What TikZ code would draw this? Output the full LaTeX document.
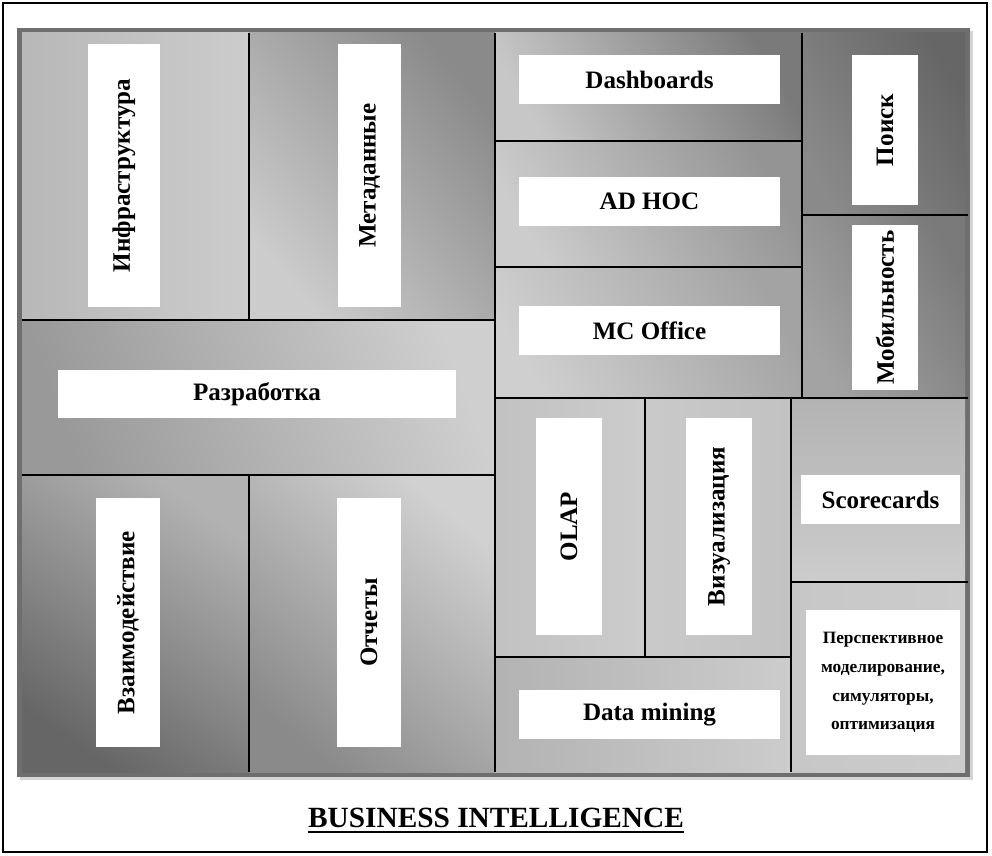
\documentclass[tikz,border=0pt]{standalone}
\usepackage{fontspec}
\setmainfont{Liberation Serif}
\begin{document}
\begin{tikzpicture}[x=0.75pt,y=-0.75pt,
  lbl/.style={fill=white, inner sep=0pt, font=\bfseries\fontsize{18.8}{22}\selectfont, align=center},
  vlbl/.style={lbl, rotate=90},
  gridline/.style={line width=1.1pt, black},
]
\useasboundingbox (0,0) rectangle (992,856);
% outer border
\draw[line width=1.2pt] (3,3) rectangle (987,852);
% panel shadow and frame
\fill[black!17] (20,31) rectangle (973,780);
\fill[black!57] (17,28) rectangle (970,777);

% cells
\shade[left color=black!28, right color=black!20] (22,33) rectangle (249,320);
\shade[bottom color=black!20, top color=black!46, shading angle=-50] (249,33) rectangle (495,320);
\shade[bottom color=black!40, top color=black!19, shading angle=-70] (22,320) rectangle (495,475);
\shade[bottom color=black!60, top color=black!30, shading angle=-35] (22,475) rectangle (249,772);
\shade[bottom color=black!46, top color=black!18, shading angle=-40] (249,475) rectangle (495,772);
\shade[bottom color=black!22, top color=black!52, shading angle=-60] (495,33) rectangle (802,141);
\shade[bottom color=black!20, top color=black!42, shading angle=-60] (495,141) rectangle (802,267);
\shade[bottom color=black!19, top color=black!36, shading angle=-60] (495,267) rectangle (802,398);
\shade[bottom color=black!46, top color=black!60, shading angle=-60] (802,33) rectangle (965,215);
\shade[bottom color=black!36, top color=black!52, shading angle=-60] (802,215) rectangle (965,398);
\shade[left color=black!24, right color=black!20] (495,398) rectangle (645,657);
\shade[left color=black!21, right color=black!24] (645,398) rectangle (791,657);
\shade[top color=black!30, bottom color=black!20] (791,398) rectangle (965,582);
\shade[left color=black!22, right color=black!20] (791,582) rectangle (965,772);
\shade[left color=black!30, right color=black!20] (495,657) rectangle (791,772);

% grid lines
\draw[gridline] (249,33) -- (249,320);
\draw[gridline] (22,320) -- (495,320);
\draw[gridline] (22,475) -- (495,475);
\draw[gridline] (249,475) -- (249,772);
\draw[gridline] (495,33) -- (495,772);
\draw[gridline] (802,33) -- (802,398);
\draw[gridline] (495,141) -- (802,141);
\draw[gridline] (495,267) -- (802,267);
\draw[gridline] (802,215) -- (968,215);
\draw[gridline] (495,398) -- (968,398);
\draw[gridline] (645,398) -- (645,657);
\draw[gridline] (495,657) -- (791,657);
\draw[gridline] (791,398) -- (791,772);
\draw[gridline] (791,582) -- (968,582);

% labels
\node[vlbl, minimum width=197.25pt, minimum height=54pt] (infra) at (124,175.5) {Инфраструктура};
\node[vlbl, minimum width=197.25pt, minimum height=47.25pt] (meta) at (369.5,175.5) {Метаданные};
\node[lbl, minimum width=298.5pt, minimum height=36pt] (dev) at (257,394) {Разработка};
\node[vlbl, minimum width=186.75pt, minimum height=48pt] (inter) at (128,622.5) {Взаимодействие};
\node[vlbl, minimum width=186.75pt, minimum height=48pt] (rep) at (369,622.5) {Отчеты};
\node[lbl, minimum width=195.75pt, minimum height=36.75pt] (dash) at (649.5,79.5) {Dashboards};
\node[lbl, minimum width=195.75pt, minimum height=36.75pt] (adhoc) at (649.5,201.5) {AD HOC};
\node[lbl, minimum width=195.75pt, minimum height=36.75pt] (mco) at (649.5,330.5) {MC Office};
\node[vlbl, minimum width=112.5pt, minimum height=49.5pt] (search) at (885,130) {Поиск};
\node[vlbl, minimum width=123.75pt, minimum height=49.5pt] (mob) at (885,307.5) {Мобильность};
\node[vlbl, minimum width=162.75pt, minimum height=49.5pt] (olap) at (569,526.5) {OLAP};
\node[vlbl, minimum width=162.75pt, minimum height=49.5pt] (vis) at (719,526.5) {Визуализация};
\node[lbl, minimum width=119.25pt, minimum height=36.75pt] (score) at (880.5,499.5) {Scorecards};
\node[lbl, minimum width=115.5pt, minimum height=108.75pt, font=\bfseries\fontsize{13}{21.5}\selectfont] (persp) at (883,682.5) {Перспективное\\моделирование,\\симуляторы,\\оптимизация};
\node[lbl, minimum width=195.75pt, minimum height=36.75pt] (dm) at (649.5,714.5) {Data mining};

% title
\node[inner sep=0pt, anchor=base, font=\bfseries\fontsize{22}{24}\selectfont] (title) at (496,827) {BUSINESS INTELLIGENCE};
\draw[line width=1.5pt] ([yshift=-3.8pt]title.base west) -- ([yshift=-3.8pt]title.base east);
\end{tikzpicture}
\end{document}
